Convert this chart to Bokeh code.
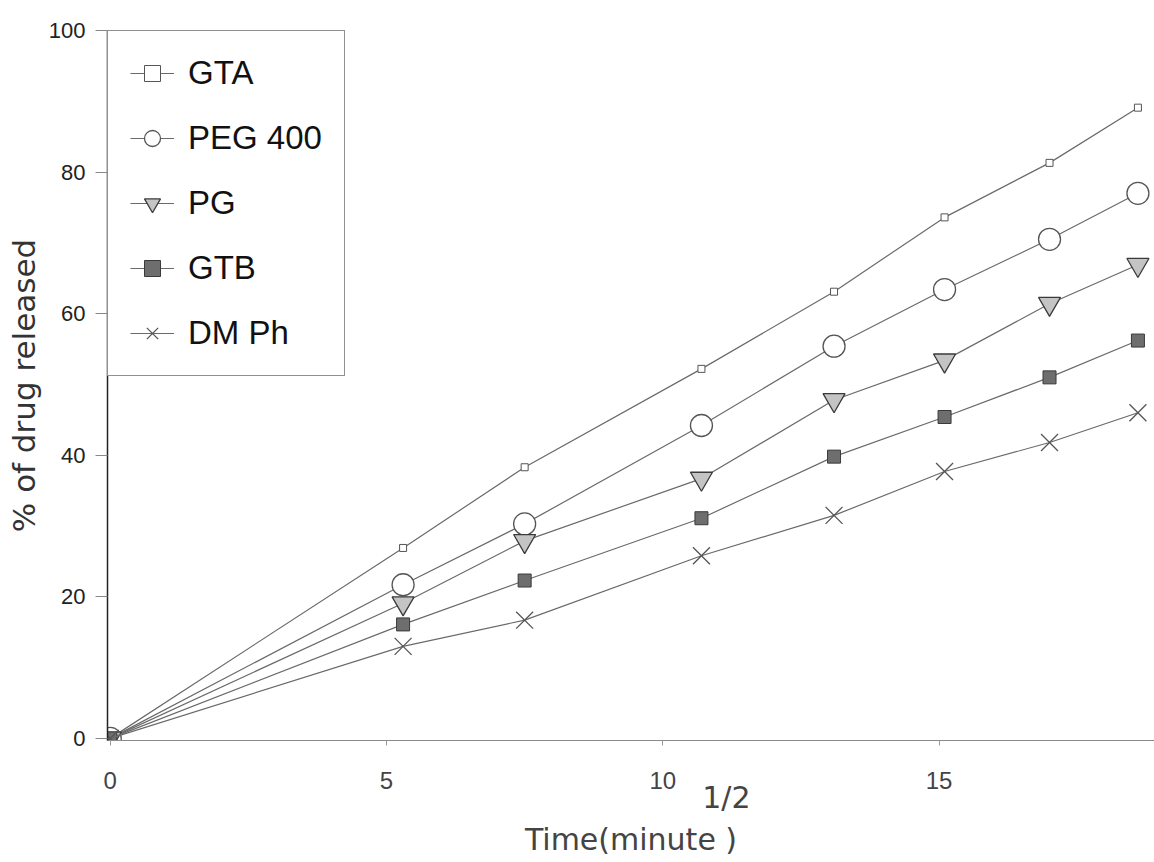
from bokeh.plotting import figure
from bokeh.models import Legend, LegendItem, Range1d, FixedTicker
from bokeh.embed import file_html
from bokeh.resources import INLINE

# square root of time (minute^1/2)
time_sqrt = [0, 5.3, 7.5, 10.7, 13.1, 15.1, 17.0, 18.6]
# % of drug released
gta = [0, 26.9, 38.3, 52.2, 63.1, 73.6, 81.3, 89.1]
peg400 = [0, 21.7, 30.3, 44.2, 55.4, 63.4, 70.5, 77.0]
pg = [0, 19.1, 27.9, 36.7, 47.8, 53.4, 61.4, 66.9]
gtb = [0, 16.1, 22.3, 31.1, 39.8, 45.4, 51.0, 56.2]
dmph = [0, 13.0, 16.7, 25.8, 31.5, 37.7, 41.8, 46.0]

x_ticks = [0, 5, 10, 15]
y_ticks = [0, 20, 40, 60, 80, 100]

FONT = "Liberation Sans"
LFONT = "DejaVu Sans"

p = figure(width=1154, height=862, output_backend="svg", toolbar_location=None,
           x_range=Range1d(-0.05, 18.9), y_range=Range1d(-0.3, 100),
           min_border_left=107, min_border_right=0, min_border_top=30,
           min_border_bottom=122)
p.outline_line_color = None
p.xgrid.visible = False
p.ygrid.visible = False
p.background_fill_color = "white"
p.border_fill_color = "white"

# x axis (the unit exponent 1/2 sits on the first line of the label)
NB = "\u00a0"
p.xaxis.ticker = FixedTicker(ticks=x_ticks)
p.xaxis.axis_line_color = "#8a8a8a"
p.xaxis.axis_line_width = 1.2
p.xaxis.major_tick_line_color = "#9a9a9a"
p.xaxis.major_tick_out = 5
p.xaxis.major_tick_in = 0
p.xaxis.minor_tick_line_color = None
p.xaxis.major_label_standoff = 26
p.xaxis.major_label_text_font = FONT
p.xaxis.major_label_text_font_size = "24px"
p.xaxis.major_label_text_color = "#444444"
p.xaxis.axis_label = NB * 20 + "1/2\nTime(minute )"
p.xaxis.axis_label_text_font = LFONT
p.xaxis.axis_label_text_font_style = "normal"
p.xaxis.axis_label_text_font_size = "30px"
p.xaxis.axis_label_text_color = "#444444"
p.xaxis.axis_label_standoff = -12

# y axis
p.yaxis.ticker = FixedTicker(ticks=y_ticks)
p.yaxis.axis_line_color = "#222222"
p.yaxis.axis_line_width = 1.5
p.yaxis.major_tick_line_color = "#888888"
p.yaxis.major_tick_out = 12
p.yaxis.major_tick_in = 0
p.yaxis.minor_tick_line_color = None
p.yaxis.major_label_standoff = 10
p.yaxis.major_label_text_font = FONT
p.yaxis.major_label_text_font_size = "22px"
p.yaxis.major_label_text_color = "#222222"
p.yaxis.axis_label = "% of drug released"
p.yaxis.axis_label_text_font = LFONT
p.yaxis.axis_label_text_font_style = "normal"
p.yaxis.axis_label_text_font_size = "31px"
p.yaxis.axis_label_text_color = "#333333"
p.yaxis.axis_label_standoff = 4

LINE = "#6a6a6a"

series = [
    ("GTA", gta, dict(marker="square", size=7, fill_color="white", line_color="#555555", line_width=1)),
    ("PEG 400", peg400, dict(marker="circle", size=22, fill_color="white", line_color="#555555", line_width=1.3)),
    ("PG", pg, dict(marker="inverted_triangle", size=22, fill_color="#c4c4c4", line_color="#3a3a3a", line_width=1.3)),
    ("GTB", gtb, dict(marker="square", size=13, fill_color="#6e6e6e", line_color="#3a3a3a", line_width=1)),
    ("DM Ph", dmph, dict(marker="x", size=24, line_color="#555555", line_width=1.3)),
]

items = []
for name, ys, mk in series:
    lr = p.line(time_sqrt, ys, line_color=LINE, line_width=1.2)
    sr = p.scatter(time_sqrt, ys, **mk)
    items.append(LegendItem(label=name, renderers=[lr, sr]))

legend = Legend(items=items, location="top_left", margin=0,
                padding=22, spacing=25, glyph_width=44, glyph_height=40,
                label_height=40, label_standoff=14,
                label_text_font=FONT, label_text_font_size="33px",
                label_text_color="#111111", border_line_color="#222222",
                border_line_width=1.5, background_fill_color="white",
                background_fill_alpha=1.0)
p.add_layout(legend, "center")

open("out.html", "w").write(file_html(p, INLINE))
